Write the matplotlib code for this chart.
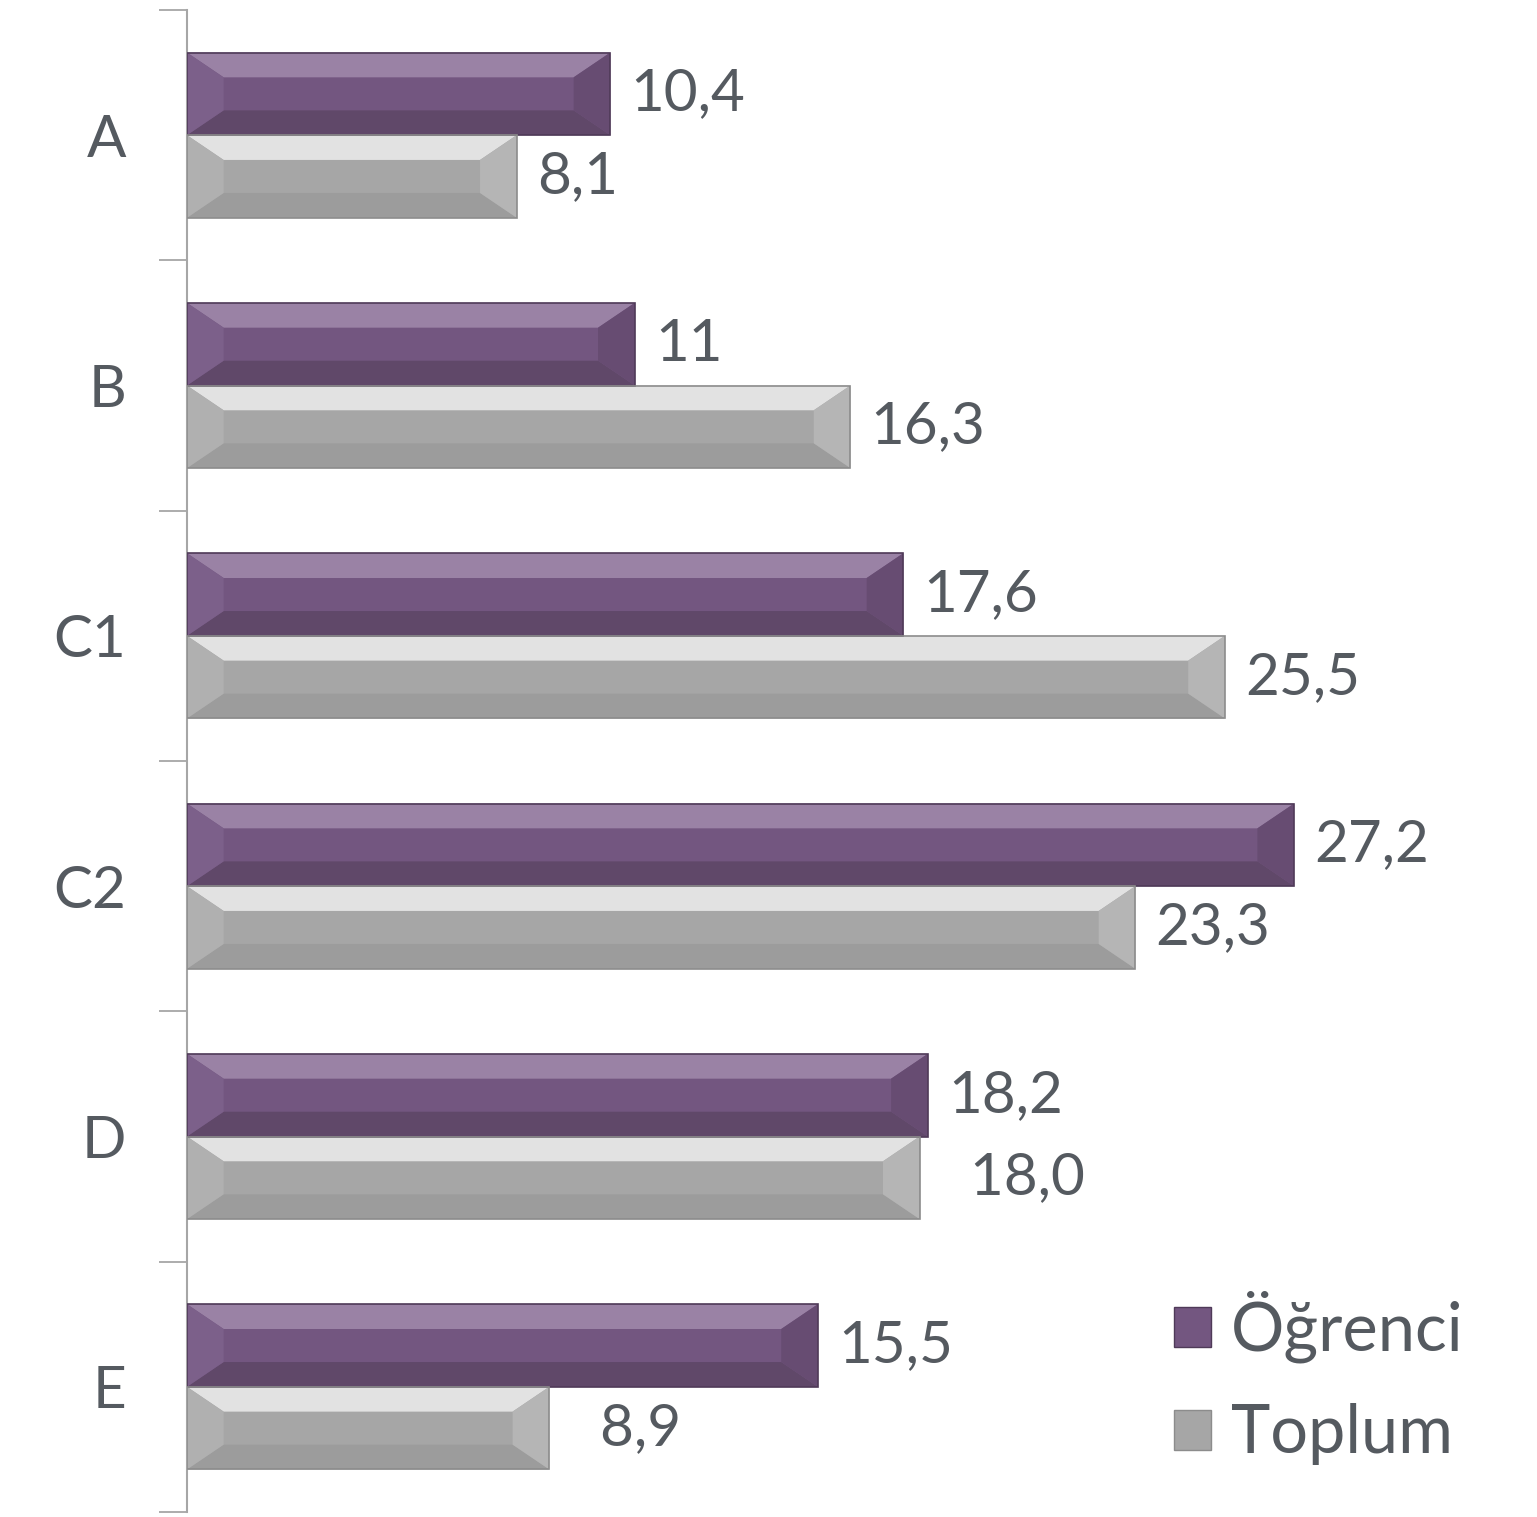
import matplotlib.pyplot as plt
from matplotlib.patches import Polygon, Patch
import numpy as np

categories = ["A", "B", "C1", "C2", "D", "E"]
ogrenci = [10.4, 11, 17.6, 27.2, 18.2, 15.5]
toplum = [8.1, 16.3, 25.5, 23.3, 18.0, 8.9]
ogrenci_labels = ["10,4", "11", "17,6", "27,2", "18,2", "15,5"]
toplum_labels = ["8,1", "16,3", "25,5", "23,3", "  18,0", "  8,9"]

plt.rcParams['font.family'] = ['Lato', 'DejaVu Sans']
text_col = "#555a60"

# colours: main face, top, bottom, left end, right end, edge
purple = ("#735680", "#9a82a5", "#604869", "#7c608a", "#674c72", "#4f3a58")
gray = ("#a6a6a6", "#e2e2e2", "#9c9c9c", "#b0b0b0", "#b5b5b5", "#8c8c8c")

fig = plt.figure(figsize=(15.37, 15.17), dpi=100)
ax = fig.add_axes([187 / 1537, 5 / 1517, 1 - 187 / 1537, 1 - 15 / 1517])

h = 0.33
y = np.arange(len(categories))


def bevel_bar(ax, yc, w, cols):
    # bar with a simple bevel look
    b = 0.9  # bevel length along x
    dy = h * 0.3
    y0, y1 = yc - h / 2, yc + h / 2
    ax.add_patch(Polygon([(0, y0), (w, y0), (w, y1), (0, y1)], closed=True,
                         facecolor=cols[0], edgecolor='none', zorder=2))
    # y0 is the visual top, the axis is inverted
    ax.add_patch(Polygon([(0, y0), (w, y0), (w - b, y0 + dy), (b, y0 + dy)],
                         facecolor=cols[1], edgecolor='none', zorder=3))
    ax.add_patch(Polygon([(0, y1), (w, y1), (w - b, y1 - dy), (b, y1 - dy)],
                         facecolor=cols[2], edgecolor='none', zorder=3))
    ax.add_patch(Polygon([(0, y0), (b, y0 + dy), (b, y1 - dy), (0, y1)],
                         facecolor=cols[3], edgecolor='none', zorder=3))
    ax.add_patch(Polygon([(w, y0), (w - b, y0 + dy), (w - b, y1 - dy), (w, y1)],
                         facecolor=cols[4], edgecolor='none', zorder=3))
    ax.add_patch(Polygon([(0, y0), (w, y0), (w, y1), (0, y1)], closed=True,
                         facecolor='none', edgecolor=cols[5], lw=1.2, zorder=4))


for i in range(len(categories)):
    bevel_bar(ax, y[i] - h / 2, ogrenci[i], purple)
    bevel_bar(ax, y[i] + h / 2, toplum[i], gray)
    ax.text(ogrenci[i] + 0.5, y[i] - h / 2, ogrenci_labels[i], va='center', ha='left',
            fontsize=42, color=text_col)
    ax.text(toplum[i] + 0.5, y[i] + h / 2, toplum_labels[i], va='center', ha='left',
            fontsize=42, color=text_col)

ax.set_xlim(0, (1537 - 187) / 40.7)
ax.set_ylim(len(categories) - 0.5, -0.5)

ax.set_yticks(y)
ax.set_yticklabels(categories, fontsize=42, color=text_col)
ax.tick_params(axis='y', which='major', length=0, pad=44)
ax.set_yticks(np.arange(-0.5, len(categories) + 0.5, 1), minor=True)
ax.tick_params(axis='y', which='minor', length=20, width=1.3, color="#a6a6a6")
ax.set_xticks([])
for s in ['top', 'right', 'bottom']:
    ax.spines[s].set_visible(False)
ax.spines['left'].set_color("#a6a6a6")
ax.spines['left'].set_linewidth(1.5)

handles = [Patch(facecolor=purple[0], edgecolor=purple[5], label="Öğrenci"),
           Patch(facecolor=gray[0], edgecolor=gray[5], label="Toplum")]
leg = ax.legend(handles=handles, loc='lower right', bbox_to_anchor=(0.98, 0.0),
                frameon=False, fontsize=48, handlelength=0.55, handleheight=0.55,
                handletextpad=0.3, labelspacing=0.6, borderaxespad=0.3)
for t in leg.get_texts():
    t.set_color(text_col)

fig.savefig("out.png", dpi=100)
